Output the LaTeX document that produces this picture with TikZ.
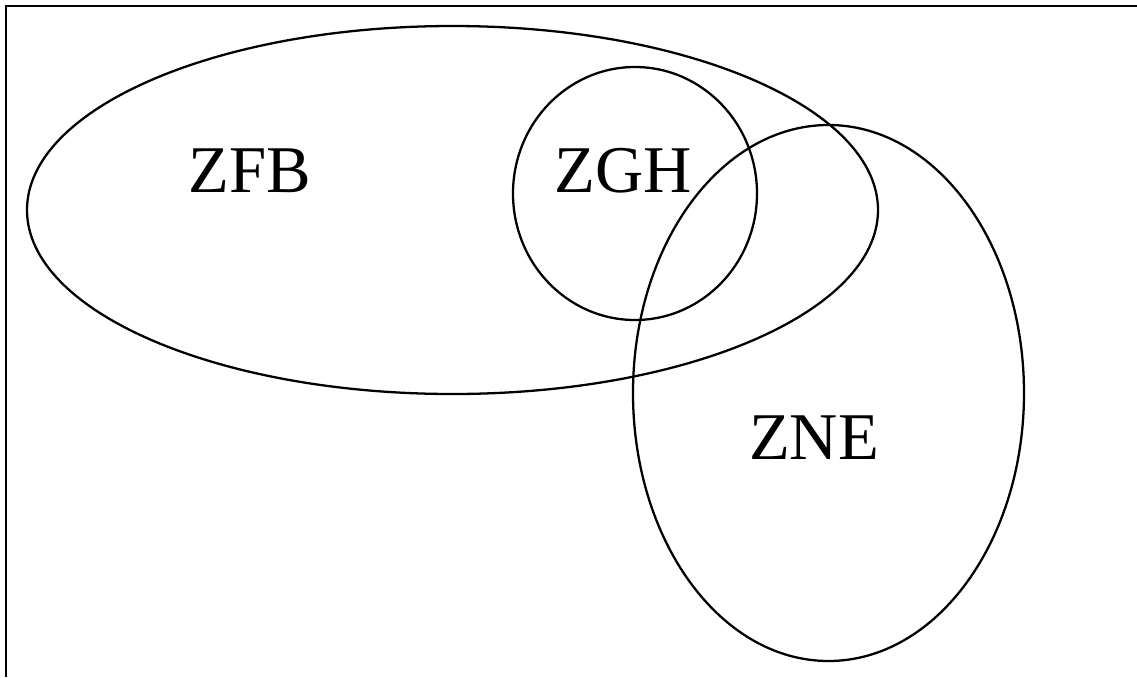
\documentclass[tikz,border=0pt]{standalone}
\usepackage{fontspec}
\setmainfont{Liberation Serif}
\usepackage{tikz}
\usetikzlibrary{shapes,positioning}

\begin{document}
\begin{tikzpicture}[x=0.02cm,y=-0.02cm,
    set/.style={line width=1.3pt},
    setname/.style={font=\fontsize{38}{40}\selectfont, inner sep=0pt}]
\useasboundingbox (0,0) rectangle (1137,677);
% frame
\draw[line width=1.3pt] (6,677) -- (6,6) -- (1137,6);
% the three sets
\draw[set] (452.5,210) ellipse [x radius=425.5, y radius=184];
\draw[set] (635,193.5) ellipse [x radius=122, y radius=126.5];
\draw[set] (828.5,393) ellipse [x radius=195.5, y radius=268];
\node[setname] (zfb) at (250,171) {ZFB};
\node[setname] (zgh) at (623,171) {ZGH};
\node[setname] (zne) at (814,438) {ZNE};
\end{tikzpicture}
\end{document}
